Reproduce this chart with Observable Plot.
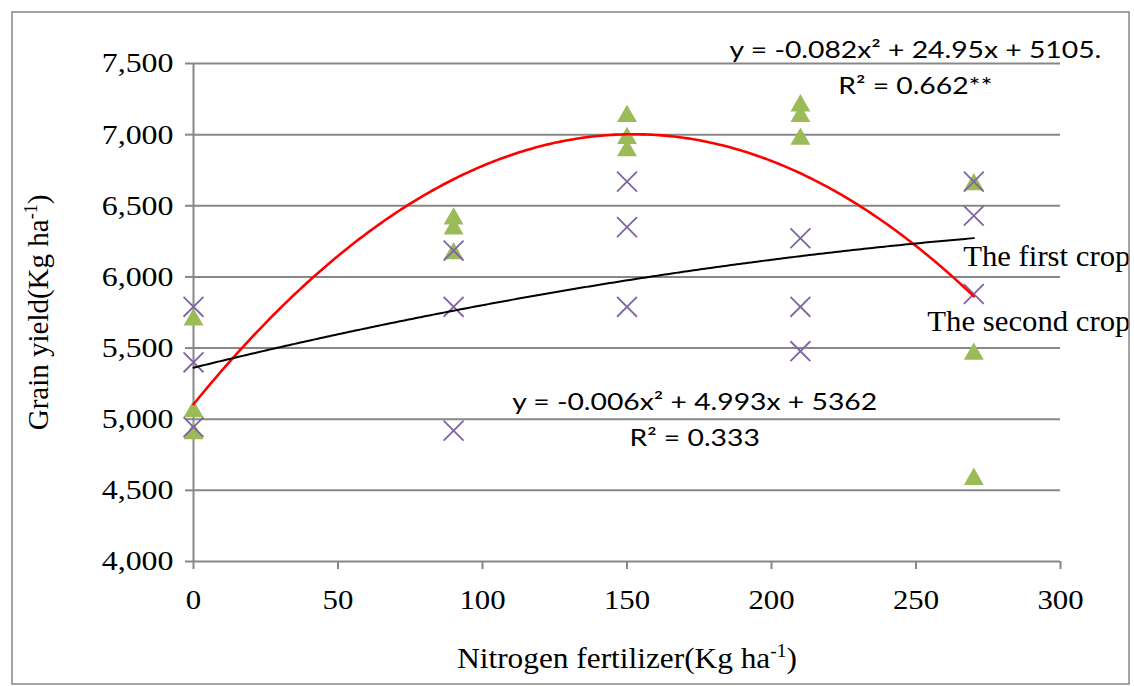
<!DOCTYPE html>
<html><head><meta charset="utf-8">
<script src="https://cdn.jsdelivr.net/npm/d3@7"></script>
<script src="https://cdn.jsdelivr.net/npm/@observablehq/plot@0.6"></script>
<style>
body{margin:0;background:#fff;}
#chart{width:1134px;height:686px;position:relative;}
</style></head><body><div id="chart"></div>
<script>
// ---- data ----
const nitrogen = [0, 90, 150, 210, 270];
const firstCrop = [            // purple × markers
  [5790, 5400, 4945],
  [6185, 5790, 4920],
  [6670, 6350, 5790],
  [6272, 5790, 5478],
  [6670, 6430, 5880]
];
const secondCrop = [           // green ▲ markers
  [5720, 5075, 4920],
  [6430, 6360, 6185],
  [7150, 6995, 6910],
  [7225, 7150, 6990],
  [6670, 5480, 4600]
];
const xTicks = [0, 50, 100, 150, 200, 250, 300];
const yTicks = [4000, 4500, 5000, 5500, 6000, 6500, 7000, 7500];
const fitFirst = [-0.006, 4.993, 5362];   // quadratic trend coefficients a, b, c
const fitSecond = [-0.082, 24.95, 5105];
const eqFirst = ["y = -0.006x² + 4.993x + 5362", "R² = 0.333"];
const eqSecond = ["y = -0.082x² + 24.95x + 5105.", "R² = 0.662**"];
const seriesNames = ["The first crop", "The second crop"];
const xTitle = "Nitrogen fertilizer(Kg ha^-1)";
const yTitle = "Grain yield(Kg ha^-1)";

// ---- tables ----
const pts = (arr, series) => nitrogen.flatMap((n, i) => arr[i].map(v => ({n, v, series})));
const firstPts = pts(firstCrop, seriesNames[0]);
const secondPts = pts(secondCrop, seriesNames[1]);
const xMax = d3.max(nitrogen);
const curve = ([a, b, c]) => d3.range(0, xMax + 0.5, 1).map(x => ({x, y: a * x * x + b * x + c}));

const grid = "#878787";
const serif = "'Liberation Serif', 'Times New Roman', serif";
const sans = "Lato, 'Open Sans', sans-serif";

const chart = Plot.plot({
  width: 1134, height: 686,
  marginLeft: 193, marginRight: 74, marginTop: 63, marginBottom: 125,
  style: {fontFamily: serif, fontSize: "28px", background: "white", overflow: "visible", color: "black"},
  x: {domain: [0, 300]},
  y: {domain: [4000, 7500]},
  marks: [
    Plot.ruleY(yTicks.filter(d => d > 4000), {stroke: grid, strokeWidth: 2}),
    Plot.ruleX([0], {stroke: grid, strokeWidth: 2}),
    Plot.ruleY([4000], {stroke: grid, strokeWidth: 2}),
    Plot.axisY({ticks: yTicks, tickFormat: d3.format(","), tickSize: 8, tickPadding: 12,
      stroke: grid, strokeWidth: 2, fill: "black", fontSize: 28, label: null, className: "ytl"}),
    Plot.axisX({ticks: xTicks, tickFormat: d => d, tickSize: 8, tickPadding: 20,
      stroke: grid, strokeWidth: 2, fill: "black", fontSize: 28, label: null, className: "xtl"}),
    Plot.dot(secondPts, {x: "n", y: "v", symbol: "triangle", r: 7.4, fill: "#9BBB59", stroke: "none", dy: 3}),
    Plot.dot(firstPts, {x: "n", y: "v", symbol: "times", r: 9.1, stroke: "#8064A2", strokeWidth: 1.8}),
    Plot.line(curve(fitSecond), {x: "x", y: "y", stroke: "#FF0000", strokeWidth: 2.6, curve: "linear"}),
    Plot.line(curve(fitFirst), {x: "x", y: "y", stroke: "black", strokeWidth: 2, curve: "linear"}),
    // equation annotations (baseline at the given y)
    Plot.text([eqSecond[0]], {x: 249.8, y: 7542, lineAnchor: "bottom", fontFamily: sans, fontSize: 23, fill: "black", className: "eq"}),
    Plot.text([eqSecond[1]], {x: 249.8, y: 7289, lineAnchor: "bottom", fontFamily: sans, fontSize: 23, fill: "black", className: "eq"}),
    Plot.text([eqFirst[0]], {x: 173.4, y: 5068, lineAnchor: "bottom", fontFamily: sans, fontSize: 23, fill: "black", className: "eq"}),
    Plot.text([eqFirst[1]], {x: 173.4, y: 4815, lineAnchor: "bottom", fontFamily: sans, fontSize: 23, fill: "black", className: "eq"}),
    // series labels
    Plot.text([seriesNames[0]], {x: 324.2, y: 6080, lineAnchor: "bottom", textAnchor: "end", fontSize: 29, fill: "black", className: "ser"}),
    Plot.text([seriesNames[1]], {x: 324.2, y: 5623, lineAnchor: "bottom", textAnchor: "end", fontSize: 29, fill: "black", className: "ser"}),
    // axis titles
    Plot.text([xTitle], {frameAnchor: "bottom", dy: 106, lineAnchor: "bottom", textAnchor: "middle", fontSize: 29, fill: "black", className: "xt"}),
    Plot.text([yTitle], {frameAnchor: "left", dx: -155, rotate: -90, lineAnchor: "middle", textAnchor: "middle", fontSize: 29, fill: "black", className: "yt"})
  ]
});
document.getElementById("chart").appendChild(chart);

const svg = d3.select(chart);
// superscripts
svg.selectAll("text").each(function () {
  const t = this.textContent;
  if (!t.includes("^")) return;
  const m = t.match(/^(.*)\^(-?\d+)(.*)$/);
  const el = d3.select(this);
  el.text(null);
  el.append("tspan").text(m[1]);
  el.append("tspan").attr("dy", -11).attr("font-size", "0.62em").text(m[2]);
  el.append("tspan").attr("dy", 11).text(m[3]);
});
// horizontal stretch to match the reference's wide glyphs
function stretch(sel, f) {
  svg.selectAll(sel).each(function () {
    const L = this.getComputedTextLength();
    this.setAttribute("textLength", L * f);
    this.setAttribute("lengthAdjust", "spacingAndGlyphs");
  });
}
stretch(".ytl text", 1.14);
stretch(".xtl text", 1.1);
stretch(".xt text", 1.08);
stretch(".ser text", 1.06);
stretch(".eq text", 1.23);
// outer chart border
svg.append("rect").attr("x", 12).attr("y", 12).attr("width", 1117).attr("height", 672)
  .attr("fill", "none").attr("stroke", grid).attr("stroke-width", 1.5);
</script>
</body></html>
